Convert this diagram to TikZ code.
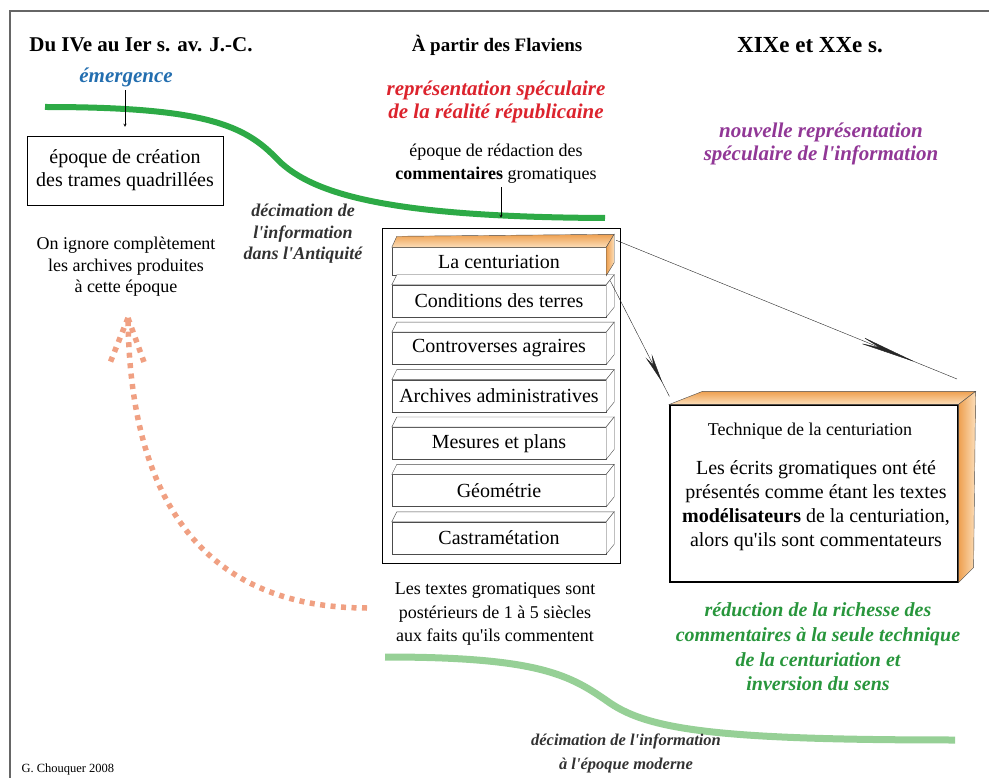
\documentclass[tikz,border=0pt]{standalone}
\usepackage{fontspec}
\setmainfont{Liberation Serif}[Ligatures=TeXOff]
\usetikzlibrary{arrows.meta,decorations.markings,fit,calc}

\definecolor{greenline}{RGB}{45,170,70}
\definecolor{palegreen}{RGB}{150,208,150}
\definecolor{emblue}{RGB}{35,110,175}
\definecolor{specred}{RGB}{220,35,45}
\definecolor{specpurple}{RGB}{145,55,150}
\definecolor{reducgreen}{RGB}{40,150,60}
\definecolor{decimgray}{RGB}{50,50,50}
\definecolor{dotorange}{RGB}{240,160,130}
\definecolor{facedark}{RGB}{238,160,80}
\definecolor{facelight}{RGB}{252,222,185}

\tikzstyle{title} = [font=\fontsize{21}{24}\selectfont\bfseries]
\tikzstyle{plain} = [align=center, font=\fontsize{18}{21.5}\selectfont]
\tikzstyle{comment} = [align=center, font=\fontsize{21}{23}\selectfont\bfseries\itshape]
\tikzstyle{decim} = [align=center, text=decimgray, font=\fontsize{18}{21.5}\selectfont\bfseries\itshape]
\tikzstyle{stackbox} = [rectangle, draw=black!70, fill=white, minimum width=214pt, minimum height=32pt, inner sep=0pt, font=\fontsize{20}{24}\selectfont]
\tikzstyle{face} = [draw=black!70, fill=white]
\tikzstyle{orangetop} = [draw=black!70, top color=facedark, bottom color=facelight]
\tikzstyle{orangeside} = [draw=black!70, left color=facedark, right color=facelight]
\tikzstyle{arrow} = [thin,->,>=stealth]
\tikzstyle{curve} = [line width=6pt, draw=greenline]
\tikzstyle{palecurve} = [line width=7pt, draw=palegreen]
\tikzstyle{dotarrow} = [line width=5.5pt, draw=dotorange, dash pattern=on 5pt off 5.5pt]
\tikzstyle{zoomarrow} = [thin, draw=black!85, postaction={decorate}, decoration={markings, mark=at position 0.88 with {\arrow{Stealth[length=60pt,width=7pt,inset=20pt]}}}]
\tikzstyle{zoomarrowshort} = [thin, draw=black!85, postaction={decorate}, decoration={markings, mark=at position 0.88 with {\arrow{Stealth[length=30pt,width=7pt,inset=10pt]}}}]

\begin{document}
\begin{tikzpicture}[x=1pt,y=-1pt]
\useasboundingbox (0,0) rectangle (989,778);
\draw [black!60, line width=1.5pt] (989,11) -- (10,11) -- (10,778);

% period titles
\node (antiq) [title] at (141,45) {Du IVe au Ier s. av. J.-C.};
\node (flav) [title, font=\fontsize{19}{24}\selectfont\bfseries] at (497,45) {À partir des Flaviens};
\node (modern) [title, font=\fontsize{23}{24}\selectfont\bfseries] at (810,45) {XIXe et XXe s.};

% left column
\node (emerg) [comment, text=emblue] at (126,77) {émergence};
\node (creation) [draw, rectangle, align=center, minimum width=196pt, minimum height=69pt, font=\fontsize{20}{23}\selectfont] at (125,170.5) {époque de création\\des trames quadrillées};
\node (ignore) [plain] at (126,267) {On ignore complètement\\les archives produites\\à cette époque};
\node (decimA) [decim] at (303,234) {décimation de\\l'information\\dans l'Antiquité};

\draw [curve] (45,107) .. controls (205,107) and (245,125) .. (278,160) .. controls (315,197) and (400,217) .. (605,218);
\draw [arrow] (creation.north |- emerg.south) -- ([yshift=9pt]creation.north);

% middle column
\node (specA) [comment, text=specred] at (496,102) {représentation spéculaire\\de la réalité républicaine};
\node (redac) [align=center, font=\fontsize{18}{23}\selectfont] at (496,164) {époque de rédaction des\\\textbf{commentaires} gromatiques};

\node (b1) [stackbox, minimum height=28pt] at (499,261.5) {La centuriation};
\node (b2) [stackbox, below of=b1, node distance=39.5pt] {Conditions des terres};
\node (b3) [stackbox, below of=b2, node distance=47.4pt] {Controverses agraires};
\node (b4) [stackbox, below of=b3, node distance=47.4pt] {Archives administratives};
\node (b5) [stackbox, below of=b4, node distance=47.4pt] {Mesures et plans};
\node (b6) [stackbox, below of=b5, node distance=47.4pt] {Géométrie};
\node (b7) [stackbox, below of=b6, node distance=47.4pt] {Castramétation};

\foreach \b in {b2,b3,b4,b5,b6,b7} {
  \draw [face] (\b.north west) -- ++(5,-10) -- ($(\b.north east)+(8,-10)$) -- (\b.north east) -- cycle;
  \draw [face] (\b.north east) -- ++(8,-10) -- ($(\b.south east)+(8,-10)$) -- (\b.south east) -- cycle;
}
\draw [orangetop] (b1.north west) -- ++(5,-11) -- ($(b1.north east)+(8,-13)$) -- (b1.north east) -- cycle;
\draw [orangeside] (b1.north east) -- ++(8,-13) -- ($(b1.south east)+(8,-13)$) -- (b1.south east) -- cycle;

\node (stack) [draw, rectangle, inner sep=0pt, fit={(382,228) (620,563)}] {};
\draw [arrow, shorten >=10pt] (redac.south -| stack.north) -- (stack.north);

\node (poster) [plain, font=\fontsize{18}{23.5}\selectfont] at (495,614) {Les textes gromatiques sont\\postérieurs de 1 à 5 siècles\\aux faits qu'ils commentent};

% right column
\node (specB) [comment, text=specpurple] at (821,143.5) {nouvelle représentation\\spéculaire de l'information};

\node (tech) [draw, rectangle, line width=1.2pt, minimum width=288pt, minimum height=177pt] at (814,493.5) {};
\draw [orangetop] (tech.north west) -- ++(33,-13) -- ($(tech.north east)+(17,-13)$) -- (tech.north east) -- cycle;
\draw [orangeside] (tech.north east) -- ++(17,-13) -- ($(tech.south east)+(15,-15)$) -- (tech.south east) -- cycle;
\node (techtitle) [font=\fontsize{18}{22}\selectfont] at (810,431) {Technique de la centuriation};
\node (techtext) [align=center, font=\fontsize{20}{24}\selectfont] at (816,506) {Les écrits gromatiques ont été\\présentés comme étant les textes\\\textbf{modélisateurs} de la centuriation,\\alors qu'ils sont commentateurs};

\coordinate (zoomend) at (957,379);
\draw [zoomarrow] ($(b1.north east)+(10,-7)$) -- (zoomend);
\draw [zoomarrowshort] ($(b1.south east)+(4,5)$) -- ($(tech.north west)+(0,-8)$);

\node (reduc) [comment, text=reducgreen, font=\fontsize{20}{24.7}\selectfont\bfseries\itshape] at (818,647) {réduction de la richesse des\\commentaires à la seule technique\\de la centuriation et\\inversion du sens};

% lower curves
\coordinate (dotstart) at (367,608);
\coordinate (dottip) at (128,318);
\draw [dotarrow] (dotstart) .. controls (220,608) and (130,520) .. (dottip);
\draw [dotarrow] (dottip) -- ++(-18,45);
\draw [dotarrow] (dottip) -- ++(16,44);

\draw [palecurve] (385,657) .. controls (540,657) and (570,675) .. (610,703) .. controls (650,730) and (720,740) .. (955,740);
\node (decimB) [decim, font=\fontsize{16.5}{24}\selectfont\bfseries\itshape] at (626,753) {décimation de l'information\\à l'époque moderne};

\node (credit) [anchor=west, font=\fontsize{12.5}{14}\selectfont] at (18,769) {G. Chouquer 2008};
\end{tikzpicture}
\end{document}
